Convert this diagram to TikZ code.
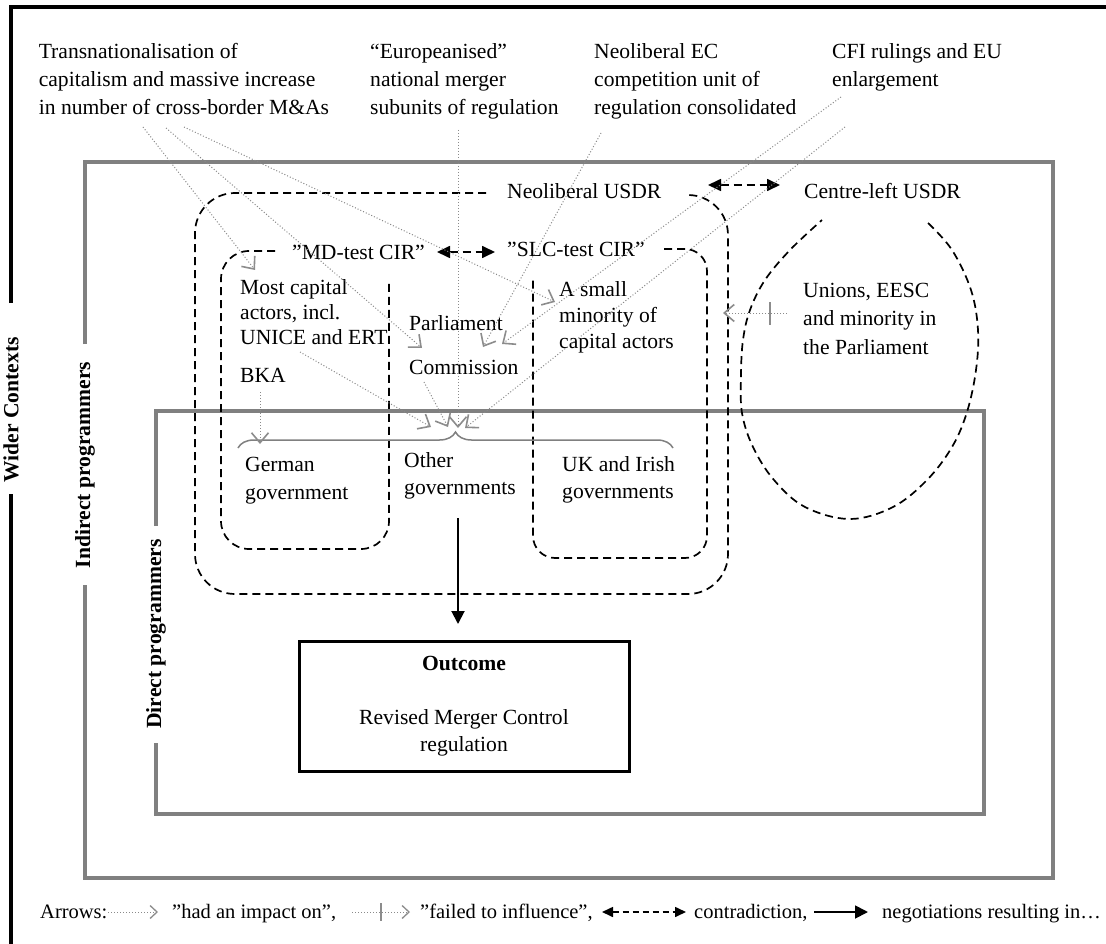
\documentclass[tikz,border=0pt]{standalone}
\usepackage{fontspec}
\setmainfont{Liberation Serif}
\usetikzlibrary{arrows.meta,decorations.pathreplacing}
\definecolor{boxgray}{HTML}{808080}
\definecolor{dotgray}{HTML}{8A8A8A}
\definecolor{tipgray}{HTML}{8C8C8C}
\begin{document}
\begin{tikzpicture}[x=1pt,y=-1pt,
  frameline/.style={draw=black,line width=4pt},
  gbox/.style={draw=boxgray,line width=4pt},
  bdash/.style={draw=black,line width=1.7pt,dash pattern=on 8pt off 5pt},
  impact/.style={draw=dotgray,line width=1pt,dash pattern=on 1pt off 2pt,
     -{Straight Barb[length=10pt,width=17pt,line width=1.6pt,color=tipgray]}},
  limpact/.style={draw=dotgray,line width=1pt,dash pattern=on 1pt off 2pt,
     -{Straight Barb[length=7pt,width=13pt,line width=1.3pt,color=tipgray]}},
  tickst/.style={draw=tipgray,line width=1.6pt},
  contra/.style={bdash,{Triangle[length=13pt,width=12pt]}-{Triangle[length=13pt,width=12pt]}},
  lcontra/.style={draw=black,line width=1.6pt,dash pattern=on 6pt off 4pt,{Triangle[length=11pt,width=10pt]}-{Triangle[length=11pt,width=10pt]}},
  nego/.style={draw=black,line width=2pt,-{Triangle[length=13pt,width=13pt]}},
  bracest/.style={draw=boxgray,line width=1.5pt,decorate,decoration={brace,amplitude=16pt}},
  txta/.style={inner sep=0pt,align=left,anchor=base west,font=\fontsize{21.6}{28}\selectfont},
  txtb/.style={inner sep=0pt,align=left,anchor=base west,font=\fontsize{21.6}{26}\selectfont},
  lab/.style={inner sep=0pt,font=\fontsize{21.6}{26}\selectfont\bfseries},
  legtxt/.style={inner sep=0pt,anchor=base west,font=\fontsize{20.5}{24}\selectfont}]
\useasboundingbox (0,0) rectangle (1106,944);
\fill[white] (0,0) rectangle (1106,944);

% wider contexts frame
\draw[frameline] (11,303) -- (11,7) -- (1108,7);
\draw[frameline] (11,494) -- (11,948);
\node[lab,rotate=90] (wider) at (11,410) {Wider Contexts};

% indirect programmers box
\draw[gbox] (85,344) -- (85,162) -- (1053,162) -- (1053,878) -- (85,878) -- (85,585);
\node[lab,rotate=90] (indirect) at (85,465) {Indirect programmers};

% direct programmers box
\draw[gbox] (156,526) -- (156,411) -- (984,411) -- (984,814) -- (156,814) -- (156,743);
\node[lab,rotate=90] (direct) at (156,634) {Direct programmers};

% dashed groupings
\draw[bdash,rounded corners=40] (486,193) -- (195,193) -- (195,594) -- (728,594) -- (728,195) -- (686,195);
\draw[bdash,rounded corners=28] (275,251) -- (221,251) -- (221,549) -- (389,549) -- (389,282);
\draw[bdash,rounded corners=22] (664,249) -- (707,249) -- (707,558) -- (533,558) -- (533,278);
\draw[bdash] plot[smooth,tension=0.6] coordinates {(928,223) (952,250) (971,290) (978,330) (976,370) (967,412) (952,447) (927,480) (893,507) (850,519) (805,507) (774,480) (753,447) (742,413) (741,375) (743,340) (750,310) (765,280) (790,250) (822,220)};

% top texts (base anchor = last line baseline)
\node[txta] (trans) at (38.6,115) {Transnationalisation of\\capitalism and massive increase\\in number of cross-border M\&As};
\node[txta] (europ) at (370,115) {“Europeanised”\\national merger\\subunits of regulation};
\node[txta] (neoec) at (594,115) {Neoliberal EC\\competition unit of\\regulation consolidated};
\node[txta] (cfi) at (832,87) {CFI rulings and EU\\enlargement};

% USDR and CIR
\node[txta] (neousdr) at (507,199) {Neoliberal USDR};
\node[txta] (centre) at (804,199) {Centre-left USDR};
\node[txta] (md) at (292,259) {”MD-test CIR”};
\node[txta] (slc) at (507,257) {”SLC-test CIR”};
\draw[contra] (437,252) -- (495,252);
\draw[contra] (708,185) -- (780,185);

% actors
\node[txtb,font=\fontsize{21.6}{25}\selectfont] (most) at (240,344) {Most capital\\actors, incl.\\UNICE and ERT};
\node[txta] (bka) at (240,382) {BKA};
\node[txta] (parl) at (409,330) {Parliament};
\node[txta] (comm) at (409,374) {Commission};
\node[txtb] (small) at (559,348) {A small\\minority of\\capital actors};
\node[txta,font=\fontsize{21.6}{28.5}\selectfont] (unions) at (803,354) {Unions, EESC\\and minority in\\the Parliament};

% governments
\draw[bracest] (238,448) -- (673,448);
\node[txta] (german) at (245,499) {German\\government};
\node[txtb,font=\fontsize{21.6}{27}\selectfont] (other) at (404,494) {Other\\governments};
\node[txtb,font=\fontsize{21.6}{27}\selectfont] (ukir) at (562,498) {UK and Irish\\governments};

% outcome
\node[draw=black,line width=3pt,minimum width=330pt,minimum height=130pt,inner sep=0pt] (outbox) at (464,706) {};
\node[inner sep=0pt,anchor=base,font=\fontsize{21.6}{26}\selectfont\bfseries] (outcome) at (464,670) {Outcome};
\node[inner sep=0pt,anchor=base,align=center,font=\fontsize{21.6}{27}\selectfont] (revised) at (464,751) {Revised Merger Control\\regulation};
\coordinate (negs) at (458,518);
\coordinate (nege) at (458,624);
\draw[nego] (negs) -- (nege);

% impact arrows
\coordinate (t1s) at (143,127); \coordinate (t1e) at (255,270);
\coordinate (t2s) at (166,128); \coordinate (t2e) at (422,348);
\coordinate (t3s) at (184,127); \coordinate (t3e) at (555,302);
\coordinate (e1s) at (458,130); \coordinate (e1e) at (458,428);
\coordinate (n1s) at (601,133); \coordinate (n1e) at (483,347);
\coordinate (c1s) at (841,97);  \coordinate (c1e) at (502,344);
\coordinate (c2s) at (845,127); \coordinate (c2e) at (465,428);
\coordinate (u1s) at (300,352); \coordinate (u1e) at (431,427);
\coordinate (m1s) at (424,382); \coordinate (m1e) at (448,427);
\coordinate (b1s) at (260,392); \coordinate (b1e) at (260,444);
\draw[impact] (t1s) -- (t1e);
\draw[impact] (t2s) -- (t2e);
\draw[impact] (t3s) -- (t3e);
\draw[impact] (e1s) -- (e1e);
\draw[impact] (n1s) -- (n1e);
\draw[impact] (c1s) -- (c1e);
\draw[impact] (c2s) -- (c2e);
\draw[impact] (u1s) -- (u1e);
\draw[impact] (m1s) -- (m1e);
\draw[impact] (b1s) -- (b1e);

% failed to influence
\coordinate (f1s) at (787,313); \coordinate (f1e) at (723,313);
\draw[impact] (f1s) -- coordinate[pos=0.27] (f1m) (f1e);
\draw[tickst] ([yshift=11pt]f1m) -- ([yshift=-12pt]f1m);

% legend
\node[legtxt] (lg1) at (40,918) {Arrows:};
\coordinate (la1) at (108,912); \coordinate (la2) at (158,912);
\draw[limpact] (la1) -- (la2);
\node[legtxt] (lg2) at (172,918) {”had an impact on”,};
\coordinate (lb1) at (352,912); \coordinate (lb2) at (410,912);
\draw[limpact] (lb1) -- coordinate[pos=0.5] (lbm) (lb2);
\draw[tickst,line width=1.3pt] ([yshift=9pt]lbm) -- ([yshift=-9pt]lbm);
\node[legtxt] (lg3) at (420,918) {”failed to influence”,};
\coordinate (lc1) at (602,912); \coordinate (lc2) at (686,912);
\draw[lcontra] (lc1) -- (lc2);
\node[legtxt] (lg4) at (694,918) {contradiction,};
\coordinate (ld1) at (814,912); \coordinate (ld2) at (868,912);
\draw[nego,line width=1.8pt] (ld1) -- (ld2);
\node[legtxt] (lg5) at (882,918) {negotiations resulting in…};
\end{tikzpicture}
\end{document}
